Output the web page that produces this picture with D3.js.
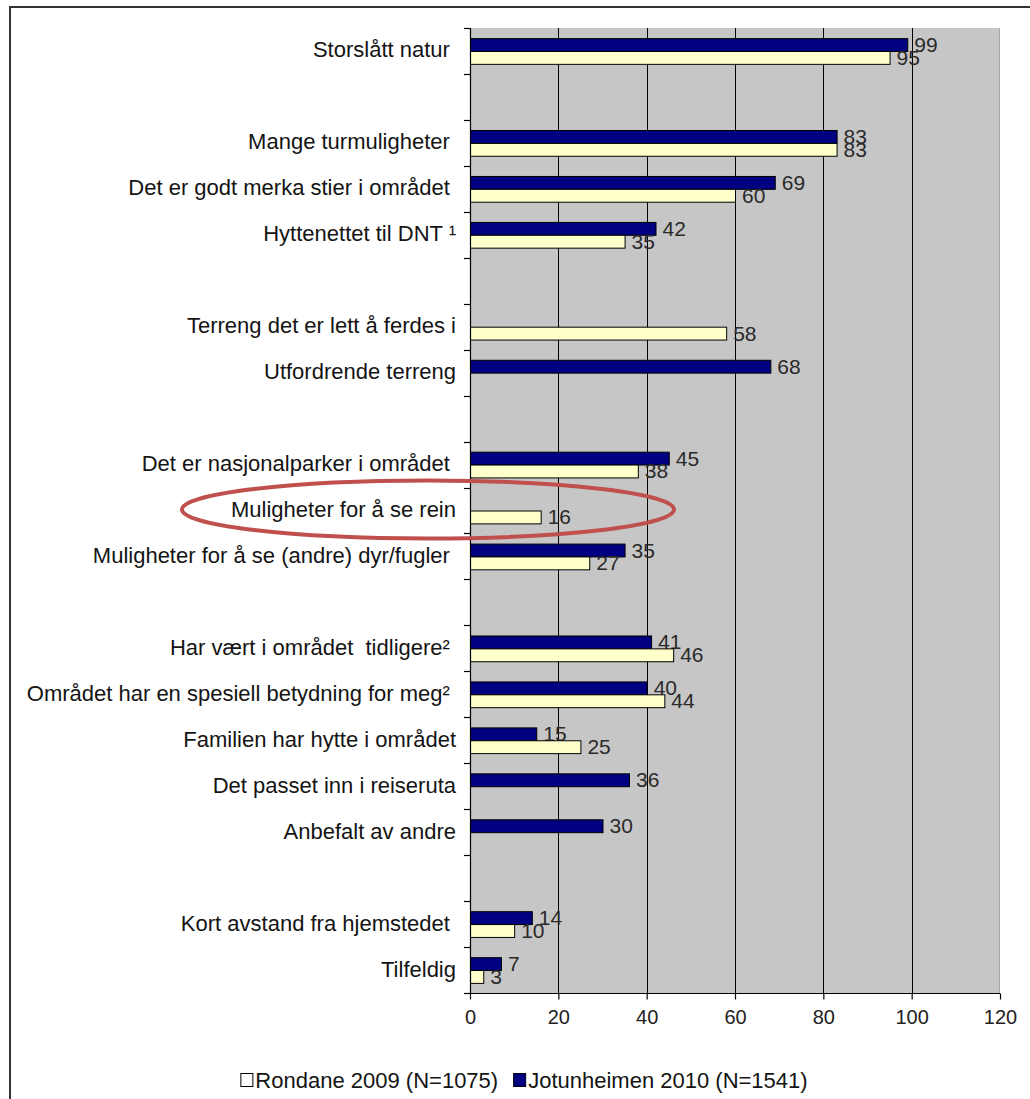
<!DOCTYPE html>
<html>
<head>
<meta charset="utf-8">
<script src="https://cdn.jsdelivr.net/npm/d3@7"></script>
<style>
  html, body { margin: 0; padding: 0; background: #fff; }
  svg { display: block; }
  text { font-family: "Liberation Sans", Arial, sans-serif; }
</style>
</head>
<body>
<svg id="chart" width="1030" height="1099"></svg>
<script>
// Reasons for choosing the area, percent of respondents.
// Blank rows (null) separate the groups of reasons.
const categories = [
  "Storslått natur\u00a0",
  null,
  "Mange turmuligheter\u00a0",
  "Det er godt merka stier i området\u00a0",
  "Hyttenettet til DNT ¹",
  null,
  "Terreng det er lett å ferdes i",
  "Utfordrende terreng",
  null,
  "Det er nasjonalparker i området\u00a0",
  "Muligheter for å se rein",
  "Muligheter for å se (andre) dyr/fugler\u00a0",
  null,
  "Har vært i området\u00a0 tidligere²\u00a0",
  "Området har en spesiell betydning for meg²\u00a0",
  "Familien har hytte i området",
  "Det passet inn i reiseruta",
  "Anbefalt av andre",
  null,
  "Kort avstand fra hjemstedet\u00a0",
  "Tilfeldig"
];
const jotunheimen = [99, null, 83, 69, 42, null, null, 68, null, 45, null, 35, null, 41, 40, 15, 36, 30, null, 14, 7];
const rondane     = [95, null, 83, 60, 35, null, 58, null, null, 38, 16, 27, null, 46, 44, 25, null, null, null, 10, 3];
const xTicks = [0, 20, 40, 60, 80, 100, 120];
const seriesNames = ["Rondane 2009 (N=1075)", "Jotunheimen 2010 (N=1541)"];
const highlighted = "Muligheter for å se rein";

const svg = d3.select("#chart");
const W = 1030, H = 1099;

// outer frame
svg.append("rect")
  .attr("x", 10).attr("y", 7).attr("width", W + 40).attr("height", H + 40)
  .attr("fill", "none").attr("stroke", "#333").attr("stroke-width", 2);

const plot = { left: 470, right: 1000, top: 28, bottom: 993 };

const x = d3.scaleLinear().domain([0, 120]).range([plot.left, plot.right]);
const y = d3.scaleBand().domain(d3.range(categories.length)).range([plot.top, plot.bottom]).padding(0);
const inner = d3.scaleBand().domain(["J", "R"])
  .range([y.bandwidth() * 0.22, y.bandwidth() * 0.78]).padding(0);

// plot background
svg.append("rect")
  .attr("x", plot.left).attr("y", plot.top)
  .attr("width", plot.right - plot.left).attr("height", plot.bottom - plot.top)
  .attr("fill", "#c6c6c6");
svg.append("line")
  .attr("x1", plot.right - 0.5).attr("x2", plot.right - 0.5)
  .attr("y1", plot.top).attr("y2", plot.bottom)
  .attr("stroke", "#a9a9a9").attr("stroke-width", 1);

// vertical gridlines
svg.append("g")
  .selectAll("line")
  .data(xTicks.filter(t => t > 0 && t < 120))
  .join("line")
  .attr("x1", d => Math.round(x(d)) + 0.5).attr("x2", d => Math.round(x(d)) + 0.5)
  .attr("y1", plot.top).attr("y2", plot.bottom)
  .attr("stroke", "#000").attr("stroke-width", 1);

// bars
const rows = categories.map((c, i) => ({ i, c, J: jotunheimen[i], R: rondane[i] }));
const series = [
  { key: "J", fill: "#000080" },
  { key: "R", fill: "#ffffcc" }
];
const barG = svg.append("g");
series.forEach(s => {
  const data = rows.filter(r => r[s.key] != null);
  barG.selectAll(null)
    .data(data)
    .join("rect")
    .attr("x", x(0) + 0.5)
    .attr("y", d => y(d.i) + inner(s.key) + 0.5)
    .attr("width", d => x(d[s.key]) - x(0))
    .attr("height", inner.bandwidth())
    .attr("fill", s.fill)
    .attr("stroke", "#000")
    .attr("stroke-width", 1);
  // value labels
  barG.selectAll(null)
    .data(data)
    .join("text")
    .attr("x", d => x(d[s.key]) + 7)
    .attr("y", d => y(d.i) + inner(s.key) + inner.bandwidth() / 2)
    .attr("dominant-baseline", "central")
    .attr("font-size", 21)
    .attr("fill", "#2a2a2a")
    .text(d => d[s.key]);
});

// left axis
const yAxisG = svg.append("g");
yAxisG.append("line")
  .attr("x1", plot.left + 0.5).attr("x2", plot.left + 0.5)
  .attr("y1", plot.top).attr("y2", plot.bottom + 0.5)
  .attr("stroke", "#000").attr("stroke-width", 1.2);
const boundaries = d3.range(categories.length + 1).map(i => plot.top + i * y.step());
yAxisG.selectAll(null)
  .data(boundaries)
  .join("line")
  .attr("x1", plot.left - 6).attr("x2", plot.left)
  .attr("y1", d => Math.round(d) + 0.5).attr("y2", d => Math.round(d) + 0.5)
  .attr("stroke", "#000").attr("stroke-width", 1.2);
yAxisG.selectAll(null)
  .data(rows.filter(r => r.c != null))
  .join("text")
  .attr("x", 456)
  .attr("y", d => y(d.i) + y.bandwidth() / 2 - 1)
  .attr("dominant-baseline", "central")
  .attr("text-anchor", "end")
  .attr("font-size", 22)
  .attr("fill", "#141414")
  .text(d => d.c);

// bottom axis
const xAxis = d3.axisBottom(x).tickValues(xTicks).tickSize(6).tickPadding(10).tickFormat(d3.format("d"));
const xAxisG = svg.append("g")
  .attr("transform", `translate(0,${plot.bottom + 0.5})`)
  .call(xAxis);
xAxisG.select(".domain").attr("stroke", "#000").attr("stroke-width", 1.2).attr("d", `M${plot.left},0H${plot.right}`);
xAxisG.selectAll(".tick line").attr("stroke", "#000").attr("stroke-width", 1.2);
xAxisG.selectAll(".tick text")
  .attr("font-family", "Liberation Sans, Arial, sans-serif")
  .attr("font-size", 20)
  .attr("fill", "#222");

// highlight ring around the reindeer row
const ringRow = categories.indexOf(highlighted);
svg.append("ellipse")
  .attr("cx", 428)
  .attr("cy", y(ringRow) + y.bandwidth() / 2 - 1)
  .attr("rx", 246).attr("ry", 29)
  .attr("fill", "none")
  .attr("stroke", "#c0504d")
  .attr("stroke-width", 4);

// legend
const legend = svg.append("g");
const legendItems = [
  { name: seriesNames[0], fill: "#ffffff" },
  { name: seriesNames[1], fill: "#000080" }
];
let lx = 0;
const ly = 1080;
legendItems.forEach((it, k) => {
  const g = legend.append("g").attr("transform", `translate(${lx},0)`);
  g.append("rect")
    .attr("x", 0.5).attr("y", ly - 6.5)
    .attr("width", 12).attr("height", 13)
    .attr("fill", it.fill).attr("stroke", "#000").attr("stroke-width", 1);
  const t = g.append("text")
    .attr("x", 15).attr("y", ly)
    .attr("dominant-baseline", "central")
    .attr("font-size", 22)
    .attr("fill", "#141414")
    .text(it.name);
  lx += 15 + t.node().getComputedTextLength() + 15;
});
const legendW = lx - 15;
legend.attr("transform", `translate(${524 - legendW / 2},0)`);
</script>
</body>
</html>
